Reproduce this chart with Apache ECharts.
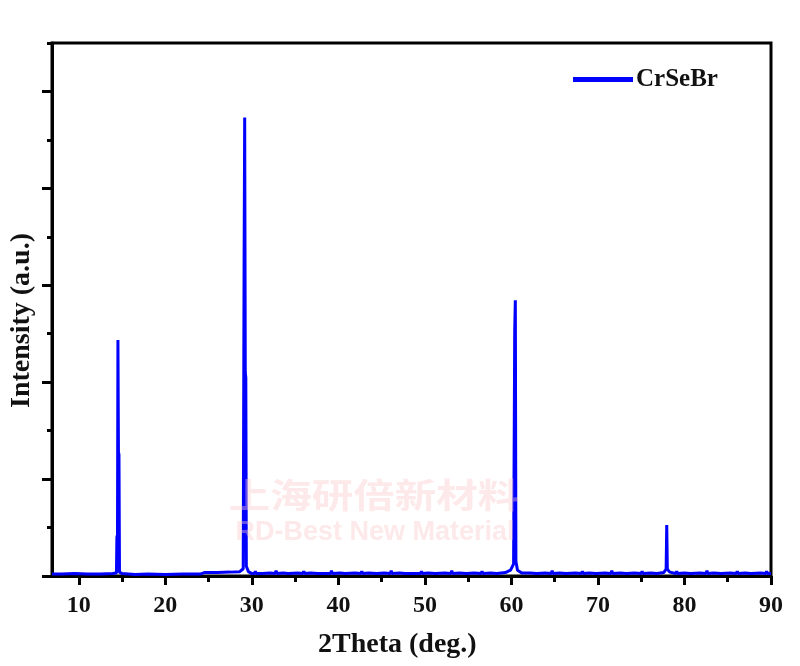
<!DOCTYPE html>
<html>
<head>
<meta charset="utf-8">
<script src="https://cdn.jsdelivr.net/npm/echarts@6/dist/echarts.min.js"></script>
<style>html,body{margin:0;padding:0;background:#fff}#c{width:800px;height:666px}</style>
</head>
<body>
<div id="c"></div>
<script>
// 2Theta (deg.) positions and intensities (a.u.)
const twoTheta = [6.9,8.0,9.5,11.0,12.5,13.9,14.35,14.4,14.47,14.52,14.58,14.64,14.7,15.0,16.5,18.0,20.0,22.0,24.0,24.5,26.0,27.5,28.6,29.0,29.1,29.17,29.24,29.3,29.36,29.6,
30.0,30.3,30.4,30.5,31.2,31.3,31.4,32.1,32.7,32.8,32.9,33.6,34.2,34.3,34.4,35.3,35.9,36.0,36.1,36.8,37.6,37.7,37.8,38.5,39.1,39.2,39.3,40.2,40.8,40.9,41.0,41.9,42.6,42.7,42.8,
43.5,44.4,44.5,44.6,45.3,46.0,46.1,46.2,47.1,47.7,47.8,47.9,48.7,49.5,49.6,49.7,50.4,51.2,51.3,51.4,52.3,53.0,53.1,53.2,54.0,54.8,54.9,55.0,55.7,56.5,56.6,56.7,57.6,58.3,58.4,58.5,59.3,
59.9,60.25,60.38,60.45,60.52,60.7,61.2,61.3,61.4,62.2,62.9,63.0,63.1,63.9,64.6,64.7,64.8,65.6,66.3,66.4,66.5,67.4,68.1,68.2,68.3,69.0,69.8,69.9,70.0,70.8,71.5,71.6,71.7,72.6,
73.3,73.4,73.5,74.2,75.0,75.1,75.2,76.1,76.8,76.9,77.0,77.6,77.88,77.95,78.02,78.3,79.0,79.1,79.2,80.0,80.7,80.8,80.9,81.8,82.5,82.6,82.7,83.4,84.2,84.3,84.4,85.3,
86.0,86.1,86.2,87.0,87.7,87.8,87.9,88.8,89.4,89.5,89.6,90.0];
const intensity = [0.04,0.04,0.05,0.04,0.04,0.05,0.06,0.8,0.85,4.87,2.56,2.5,0.08,0.05,0.03,0.04,0.03,0.04,0.04,0.07,0.07,0.08,0.09,0.15,6.45,9.46,4.19,4.1,0.2,0.09,
0.05,0.05,0.1,0.05,0.05,0.09,0.05,0.06,0.05,0.11,0.05,0.06,0.05,0.09,0.05,0.06,0.05,0.1,0.05,0.06,0.05,0.09,0.05,0.05,0.05,0.11,0.05,0.06,0.05,0.09,0.05,0.06,0.05,0.1,0.05,
0.06,0.05,0.09,0.05,0.06,0.05,0.11,0.05,0.06,0.05,0.09,0.05,0.05,0.05,0.1,0.05,0.06,0.05,0.09,0.05,0.06,0.05,0.11,0.05,0.06,0.05,0.09,0.05,0.06,0.05,0.1,0.05,0.06,0.05,0.09,0.05,0.07,
0.12,0.25,5.07,5.69,0.3,0.12,0.06,0.1,0.05,0.06,0.05,0.09,0.05,0.06,0.05,0.11,0.05,0.06,0.05,0.09,0.05,0.06,0.05,0.1,0.05,0.06,0.05,0.09,0.05,0.06,0.05,0.11,0.05,0.06,
0.05,0.09,0.05,0.06,0.05,0.1,0.05,0.06,0.05,0.09,0.05,0.07,0.14,1.05,0.14,0.08,0.05,0.1,0.05,0.06,0.05,0.09,0.05,0.06,0.05,0.11,0.05,0.06,0.05,0.09,0.05,0.06,
0.05,0.1,0.05,0.06,0.05,0.09,0.05,0.06,0.05,0.1,0.05,0.05];
const seriesName = 'CrSeBr';
const xMajorTicks = [10,20,30,40,50,60,70,80,90];
const xMinorTicks = [15,25,35,45,55,65,75,85];
const yMajorTicks = [0,2,4,6,8,10];
const yMinorTicks = [1,3,5,7,9,11];

(function () {
const chart = echarts.init(document.getElementById('c'));
const serif = 'Liberation Serif';
const data = twoTheta.map((x, i) => [x, intensity[i]]);
const gL = 52, gR = 29, gT = 43, gB = 90;

chart.setOption({
  animation: false,
  backgroundColor: '#fff',
  grid: { left: gL, right: gR, top: gT, bottom: gB, show: true, borderColor: '#000', borderWidth: 3, backgroundColor: 'transparent' },
  legend: {
    data: [seriesName], left: 568, top: 62, icon: 'rect', itemWidth: 60, itemHeight: 5, itemGap: 0,
    textStyle: { fontFamily: serif, fontWeight: 'bold', fontSize: 25, color: '#111', padding: [0, 0, 0, -2] }
  },
  xAxis: [
    { type: 'value', min: 6.9, max: 90, position: 'bottom',
      axisLine: { show: true, lineStyle: { color: '#000', width: 3 } },
      axisTick: { show: true, customValues: xMajorTicks, length: 9, lineStyle: { color: '#000', width: 3 } },
      axisLabel: { show: true, customValues: xMajorTicks, margin: 18, fontFamily: serif, fontWeight: 'bold', fontSize: 24, color: '#111' },
      splitLine: { show: false } },
    { type: 'value', min: 6.9, max: 90, position: 'bottom',
      axisLine: { show: false },
      axisTick: { show: true, customValues: xMinorTicks, length: 6, lineStyle: { color: '#000', width: 3 } },
      axisLabel: { show: false }, splitLine: { show: false } }
  ],
  yAxis: [
    { type: 'value', min: 0, max: 11, position: 'left',
      axisLine: { show: true, lineStyle: { color: '#000', width: 3 } },
      axisTick: { show: true, customValues: yMajorTicks, length: 10, lineStyle: { color: '#000', width: 3 } },
      axisLabel: { show: false }, splitLine: { show: false } },
    { type: 'value', min: 0, max: 11, position: 'left',
      axisLine: { show: false },
      axisTick: { show: true, customValues: yMinorTicks, length: 5, lineStyle: { color: '#000', width: 3 } },
      axisLabel: { show: false }, splitLine: { show: false } }
  ],
  series: [{
    name: seriesName, type: 'line', xAxisIndex: 0, yAxisIndex: 0, data: data,
    showSymbol: false, symbol: 'none', color: '#0000ff',
    lineStyle: { color: '#0000ff', width: 3 }
  }],
  graphic: [
    { type: 'text', left: 318, top: 631, style: { text: '2Theta (deg.)', font: 'bold 28px "Liberation Serif"', fill: '#111' } },
    { type: 'text', x: 8, y: 408, rotation: Math.PI / 2, style: { text: 'Intensity (a.u.)', font: 'bold 28px "Liberation Serif"', fill: '#111', textVerticalAlign: 'top' } },
    { type: 'text', x: 374, y: 495, scaleX: 1.22, z: 100, silent: true, style: { text: '上海研倍新材料', font: 'bold 34px "Noto Sans CJK SC"', fill: 'rgba(250,200,200,0.4)', textAlign: 'center', textVerticalAlign: 'middle' } },
    { type: 'text', x: 375, y: 533, z: 100, silent: true, style: { text: 'RD-Best New Material', font: 'bold 27px "Liberation Sans"', fill: 'rgba(250,200,200,0.4)', textAlign: 'center', textVerticalAlign: 'middle' } }
  ]
});
})();
</script>
</body>
</html>
